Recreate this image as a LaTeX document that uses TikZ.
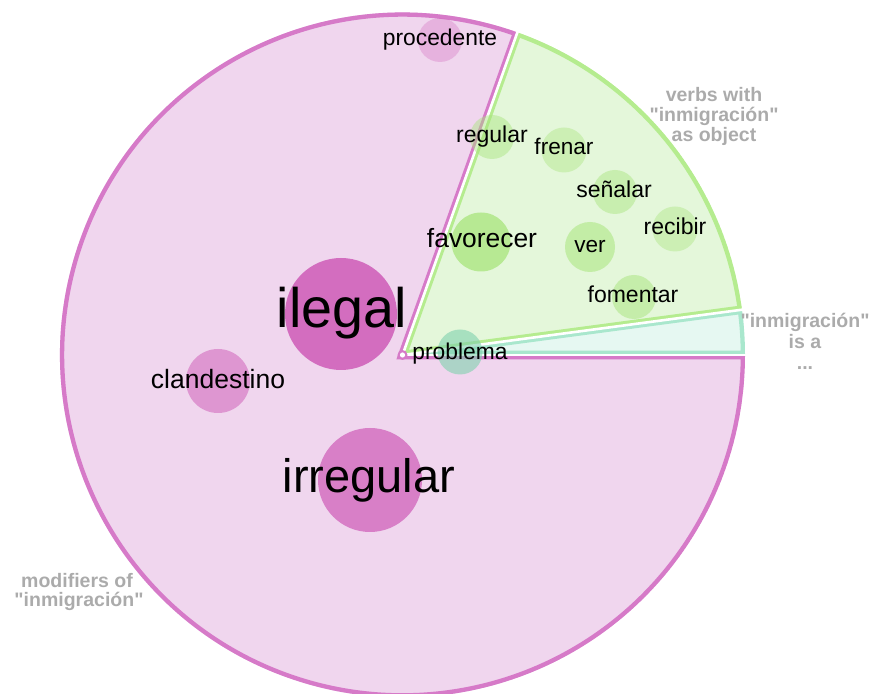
\documentclass[tikz,border=0pt]{standalone}
\usepackage{fontspec}
\usetikzlibrary{calc}
\setmainfont{Liberation Sans}[Ligatures=TeXOff]
\definecolor{pinkfill}{HTML}{F0D6EE}
\definecolor{pinkline}{HTML}{D67AC8}
\definecolor{pinkbub}{HTML}{D062BA}
\definecolor{greenfill}{HTML}{E4F7DA}
\definecolor{greenline}{HTML}{B5EC8F}
\definecolor{greenbub}{HTML}{A8E57C}
\definecolor{cyanfill}{HTML}{E6F8F2}
\definecolor{cyanline}{HTML}{A9E7CD}
\definecolor{cyanbub}{HTML}{7FD1AE}
\definecolor{labelgray}{HTML}{ABABAB}
\begin{document}
\begin{tikzpicture}[x=1pt,y=1pt,
  bub/.style={circle, draw=none, inner sep=0pt},
  word/.style={anchor=base, inner sep=0pt, text=black},
  glabel/.style={anchor=base, inner sep=0pt, text=labelgray, font=\bfseries\fontsize{19.5}{20}\selectfont},
  gap/.style={draw=white, line width=2.6pt}]
\useasboundingbox (0,0) rectangle (872,693);
\clip (0,0) rectangle (872,693);
\coordinate (C) at (402.5,338);
% pink sector
\begin{scope}
  \clip (C) -- ++(70.4:342.5) arc[start angle=70.4, end angle=360, radius=342.5pt] -- cycle;
  \fill[pinkfill] (C) -- ++(70.4:342.5) arc[start angle=70.4, end angle=360, radius=342.5pt] -- cycle;
  \draw[pinkline, line width=8.6pt] (C) -- ++(70.4:342.5) arc[start angle=70.4, end angle=360, radius=342.5pt] -- cycle;
\end{scope}
% green sector
\begin{scope}
  \clip (C) -- ++(7.6:342.5) arc[start angle=7.6, end angle=70.4, radius=342.5pt] -- cycle;
  \fill[greenfill] (C) -- ++(7.6:342.5) arc[start angle=7.6, end angle=70.4, radius=342.5pt] -- cycle;
  \draw[greenline, line width=8.6pt] (C) -- ++(7.6:342.5) arc[start angle=7.6, end angle=70.4, radius=342.5pt] -- cycle;
\end{scope}
% cyan sector
\begin{scope}
  \clip (C) -- ++(0:342.5) arc[start angle=0, end angle=7.6, radius=342.5pt] -- cycle;
  \fill[cyanfill] (C) -- ++(0:342.5) arc[start angle=0, end angle=7.6, radius=342.5pt] -- cycle;
  \draw[cyanline, line width=8.6pt] (C) -- ++(0:342.5) arc[start angle=0, end angle=7.6, radius=342.5pt] -- cycle;
\end{scope}
% gaps
\coordinate (g1) at ($(C)+(70.4:350)$);
\coordinate (g2) at ($(C)+(7.6:350)$);
\coordinate (g3) at ($(C)+(0:350)$);
\draw[gap] (C) -- (g1);
\draw[gap] (C) -- (g2);
\draw[gap] (C) -- (g3);
\fill[pinkline] (C) circle (5pt);
\fill[white] (C) circle (2.6pt);
% bubbles
\node[bub, fill=pinkbub, fill opacity=0.3, minimum size=44pt] (bprocedente) at (440,653) {};
\node[bub, fill=greenbub, fill opacity=0.45, minimum size=44pt] (bregular) at (492,556) {};
\node[bub, fill=greenbub, fill opacity=0.4, minimum size=45pt] (bfrenar) at (564,543) {};
\node[bub, fill=greenbub, fill opacity=0.45, minimum size=44pt] (bsenalar) at (615,501) {};
\node[bub, fill=greenbub, fill opacity=0.4, minimum size=45pt] (brecibir) at (675,464) {};
\node[bub, fill=greenbub, fill opacity=0.75, minimum size=59pt] (bfavorecer) at (481,451) {};
\node[bub, fill=greenbub, fill opacity=0.55, minimum size=50pt] (bver) at (590,446) {};
\node[bub, fill=greenbub, fill opacity=0.5, minimum size=44pt] (bfomentar) at (634,396) {};
\node[bub, fill=pinkbub, fill opacity=0.9, minimum size=112pt] (bilegal) at (341,379) {};
\node[bub, fill=pinkbub, fill opacity=0.55, minimum size=64pt] (bclandestino) at (218,312) {};
\node[bub, fill=pinkbub, fill opacity=0.75, minimum size=104pt] (birregular) at (370,213) {};
\node[bub, fill=cyanbub, fill opacity=0.6, minimum size=45pt] (bproblema) at (460,341) {};
% words
\node[word, font=\fontsize{22.8}{24}\selectfont] (tprocedente) at (440,647) {procedente};
\node[word, font=\fontsize{23}{24}\selectfont] (tregular) at (492,550) {regular};
\node[word, font=\fontsize{22.6}{24}\selectfont] (tfrenar) at (564,538) {frenar};
\node[word, font=\fontsize{23}{24}\selectfont] (tsenalar) at (614,495) {señalar};
\node[word, font=\fontsize{23}{24}\selectfont] (trecibir) at (675,458) {recibir};
\node[word, font=\fontsize{26.4}{28}\selectfont] (tfavorecer) at (482,445) {favorecer};
\node[word, font=\fontsize{22.6}{24}\selectfont] (tver) at (590,440) {ver};
\node[word, font=\fontsize{23}{24}\selectfont] (tfomentar) at (633,390) {fomentar};
\node[word, font=\fontsize{22.8}{24}\selectfont] (tproblema) at (460,333) {problema};
\node[word, font=\fontsize{55.7}{58}\selectfont] (tilegal) at (342,365) {ilegal};
\node[word, font=\fontsize{26.5}{28}\selectfont] (tclandestino) at (218,304) {clandestino};
\node[word, font=\fontsize{47}{50}\selectfont] (tirregular) at (369,200) {irregular};
% group labels
\node[glabel] (lv1) at (714,591) {verbs with};
\node[glabel] (lv2) at (714,571) {"inmigración"};
\node[glabel] (lv3) at (714,551) {as object};
\node[glabel] (li1) at (805,365) {"inmigración"};
\node[glabel] (li2) at (805,344) {is a};
\node[glabel] (li3) at (805,323) {...};
\node[glabel] (lm1) at (77,105) {modifiers of};
\node[glabel] (lm2) at (79,86) {"inmigración"};
\end{tikzpicture}
\end{document}
